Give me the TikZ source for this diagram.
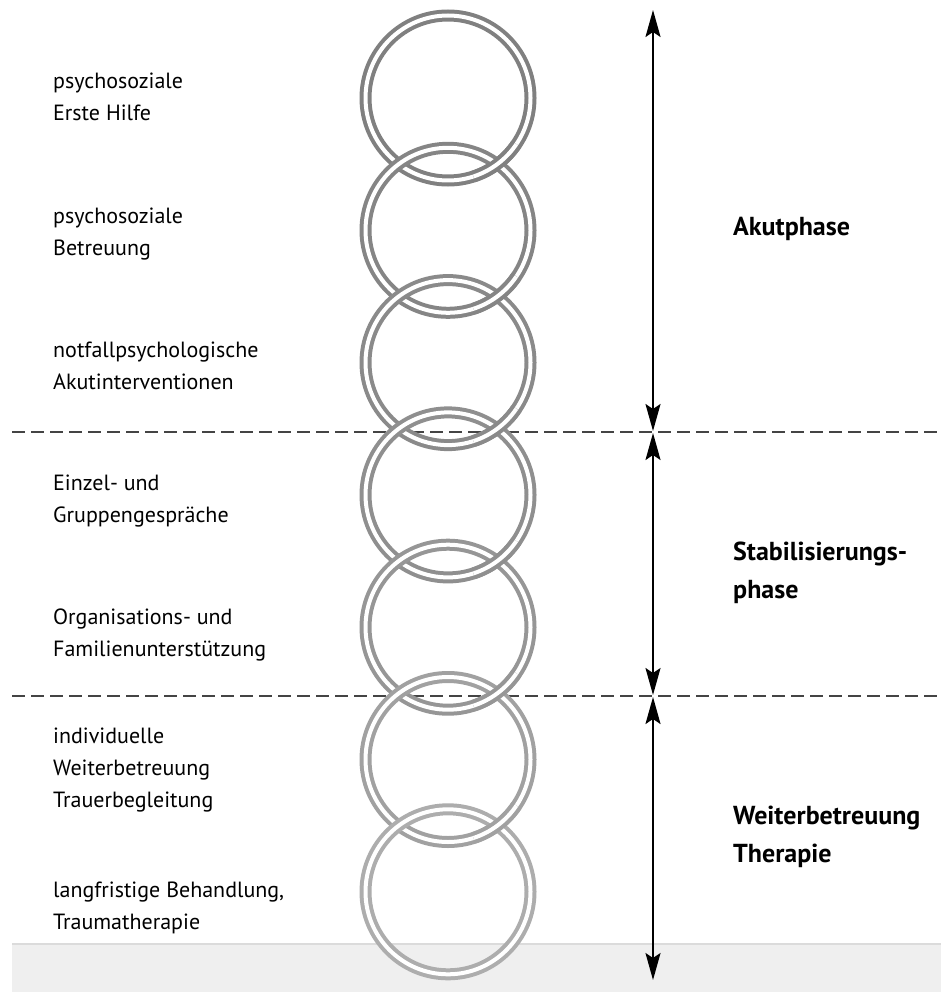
\documentclass[tikz,border=0pt]{standalone}
\usepackage{fontspec}
\setmainfont{PT Sans}
\usetikzlibrary{arrows.meta,calc}
\definecolor{bandgray}{HTML}{EFEFEF}
\definecolor{dashgray}{HTML}{444444}
\begin{document}
\begin{tikzpicture}[x=1pt,y=-1pt,
  ring/.style={double=white, double distance=4pt, line width=4pt},
  phaseline/.style={dashgray, line width=2pt, dash pattern=on 13pt off 6pt},
  phasearrow/.style={line width=2pt, {Stealth[length=27pt,width=15pt,inset=5pt]}-{Stealth[length=27pt,width=15pt,inset=5pt]}},
  leftlabel/.style={anchor=base west, inner sep=0pt, align=left, text=black, font=\fontsize{22}{32}\selectfont},
  rightlabel/.style={anchor=base west, inner sep=0pt, align=left, font=\fontsize{26}{38}\selectfont\bfseries}]
\useasboundingbox (0,0) rectangle (941,992);
\fill[white] (0,0) rectangle (941,992);
% bottom band
\fill[bandgray] (12,944) rectangle (941,992);
\draw[line width=1.5pt, black!14] (12,944) -- (941,944);
% phase separators
\coordinate (d1l) at (12,432); \coordinate (d1r) at (941,432);
\coordinate (d2l) at (12,696); \coordinate (d2r) at (941,696);
\draw[phaseline] (d1l) -- (d1r);
\draw[phaseline] (d2l) -- (d2r);
% ring centres
\foreach \k in {1,...,7}{
  \coordinate (r\k) at (448,{98+132.3*(\k-1)});
}
% chain of rings
\draw[ring, draw=black!50] (r1) circle[radius=82.5];
\draw[ring, draw=black!48] (r2) circle[radius=82.5];
\draw[ring, draw=black!50] ($(r1)+(34:82.5)$) arc[start angle=34, end angle=72, radius=82.5];
\draw[ring, draw=black!46] (r3) circle[radius=82.5];
\draw[ring, draw=black!48] ($(r2)+(34:82.5)$) arc[start angle=34, end angle=72, radius=82.5];
\draw[ring, draw=black!44] (r4) circle[radius=82.5];
\draw[ring, draw=black!46] ($(r3)+(34:82.5)$) arc[start angle=34, end angle=72, radius=82.5];
\draw[ring, draw=black!41] (r5) circle[radius=82.5];
\draw[ring, draw=black!44] ($(r4)+(34:82.5)$) arc[start angle=34, end angle=72, radius=82.5];
\draw[ring, draw=black!37] (r6) circle[radius=82.5];
\draw[ring, draw=black!41] ($(r5)+(34:82.5)$) arc[start angle=34, end angle=72, radius=82.5];
\draw[ring, draw=black!32] (r7) circle[radius=82.5];
\draw[ring, draw=black!37] ($(r6)+(34:82.5)$) arc[start angle=34, end angle=72, radius=82.5];
% phase arrows
\coordinate (a0) at (653,10);
\coordinate (a1t) at (653,431);
\coordinate (a1b) at (653,433);
\coordinate (a2t) at (653,695);
\coordinate (a2b) at (653,697);
\coordinate (a3) at (653,980);
\draw[phasearrow] (a0) -- (a1t);
\draw[phasearrow] (a1b) -- (a2t);
\draw[phasearrow] (a2b) -- (a3);
% left labels (anchor = baseline of last line)
\node[leftlabel] (t1) at (53,121) {psychosoziale\\Erste Hilfe};
\node[leftlabel] (t2) at (53,255) {psychosoziale\\Betreuung};
\node[leftlabel] (t3) at (53,389) {notfallpsychologische\\Akutinterventionen};
\node[leftlabel] (t4) at (53,522) {Einzel- und\\Gruppengespräche};
\node[leftlabel] (t5) at (53,656) {Organisations- und\\Familienunterstützung};
\node[leftlabel] (t6) at (53,807) {individuelle\\Weiterbetreuung\\Trauerbegleitung};
\node[leftlabel] (t7) at (53,929) {langfristige Behandlung,\\Traumatherapie};
% right labels
\node[rightlabel] (p1) at (733,236) {Akutphase};
\node[rightlabel] (p2) at (733,598) {Stabilisierungs-\\phase};
\node[rightlabel] (p3) at (733,862) {Weiterbetreuung\\Therapie};
\end{tikzpicture}
\end{document}
